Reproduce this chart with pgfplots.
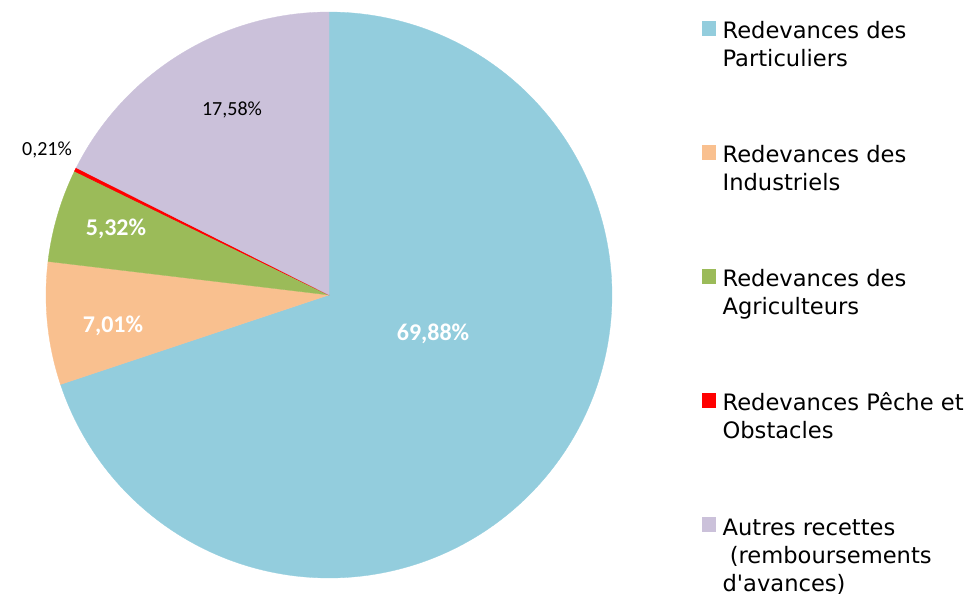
\documentclass[border=0pt]{standalone}
\usepackage{pgfplots}
\usepackage{pgfplotstable}
\pgfplotsset{compat=1.18}
\usepackage{fontspec}
\setmainfont{DejaVu Sans}[Ligatures=TeXOff]
\newfontfamily\carlito{Carlito}
\definecolor{cPart}{HTML}{93CDDD}
\definecolor{cInd}{HTML}{F9C08F}
\definecolor{cAgr}{HTML}{9BBB59}
\definecolor{cPec}{HTML}{FF0000}
\definecolor{cAut}{HTML}{CBC1DA}
\pgfplotstableread{
val
69.88
7.01
5.32
0.21
17.58
}\piedata
\begin{document}
\begin{tikzpicture}
\pgfplotstablegetelem{0}{val}\of\piedata \let\vA\pgfplotsretval
\pgfplotstablegetelem{1}{val}\of\piedata \let\vB\pgfplotsretval
\pgfplotstablegetelem{2}{val}\of\piedata \let\vC\pgfplotsretval
\pgfplotstablegetelem{3}{val}\of\piedata \let\vD\pgfplotsretval
\pgfplotstablegetelem{4}{val}\of\piedata \let\vE\pgfplotsretval
\pgfmathsetmacro\aA{90}
\pgfmathsetmacro\aB{\aA-3.6*\vA}
\pgfmathsetmacro\aC{\aB-3.6*\vB}
\pgfmathsetmacro\aD{\aC-3.6*\vC}
\pgfmathsetmacro\aE{\aD-3.6*\vD}
\pgfmathsetmacro\aF{\aE-3.6*\vE}
\begin{axis}[
  x=1pt, y=1pt,
  xmin=0, xmax=969, ymin=0, ymax=593,
  hide axis, clip=false,
  legend style={at={(axis cs:702,576)}, anchor=north west, draw=none, fill=none,
    inner sep=0pt, outer sep=0pt,
    font=\fontsize{22.6}{28}\selectfont,
    row sep=71pt, column sep=5pt,
    cells={anchor=north west, align=left, inner sep=0pt}},
  legend image code/.code={\fill[#1] (0pt,-4pt) rectangle (13pt,-18pt);},
]
\path (axis cs:0,0) rectangle (axis cs:969,593);
\addplot[fill=cPart, draw=cPart, line width=0.3pt, domain=\aB:\aA, samples=200, variable=\t]
  ({329+283*cos(\t)},{298+283*sin(\t)}) -- (axis cs:329,298) -- cycle;
\addlegendentry{\strut Redevances des\\\strut Particuliers}
\addplot[fill=cInd, draw=cInd, line width=0.3pt, domain=\aC:\aB, samples=40, variable=\t]
  ({329+283*cos(\t)},{298+283*sin(\t)}) -- (axis cs:329,298) -- cycle;
\addlegendentry{\strut Redevances des\\\strut Industriels}
\addplot[fill=cAgr, draw=cAgr, line width=0.3pt, domain=\aD:\aC, samples=40, variable=\t]
  ({329+283*cos(\t)},{298+283*sin(\t)}) -- (axis cs:329,298) -- cycle;
\addlegendentry{\strut Redevances des\\\strut Agriculteurs}
\addplot[fill=cPec, draw=cPec, line width=0.6pt, domain=\aE:\aD, samples=5, variable=\t]
  ({329+283*cos(\t)},{298+283*sin(\t)}) -- (axis cs:329,298) -- cycle;
\addlegendentry{\strut Redevances Pêche et\\\strut Obstacles}
\addplot[fill=cAut, draw=cAut, line width=0.3pt, domain=\aF:\aE, samples=80, variable=\t]
  ({329+283*cos(\t)},{298+283*sin(\t)}) -- (axis cs:329,298) -- cycle;
\addlegendentry{\strut Autres recettes\\\strut\ (remboursements\\\strut d'avances)}
\node[font=\carlito\bfseries\fontsize{24}{28}\selectfont, text=white] at (axis cs:433,259) {69,88\%};
\node[font=\carlito\bfseries\fontsize{24}{28}\selectfont, text=white] at (axis cs:113,267) {7,01\%};
\node[font=\carlito\bfseries\fontsize{24}{28}\selectfont, text=white] at (axis cs:116,364) {5,32\%};
\node[font=\carlito\fontsize{20}{24}\selectfont, text=black] at (axis cs:47,443) {0,21\%};
\node[font=\carlito\fontsize{20}{24}\selectfont, text=black] at (axis cs:232,483) {17,58\%};
\end{axis}
\end{tikzpicture}
\end{document}
